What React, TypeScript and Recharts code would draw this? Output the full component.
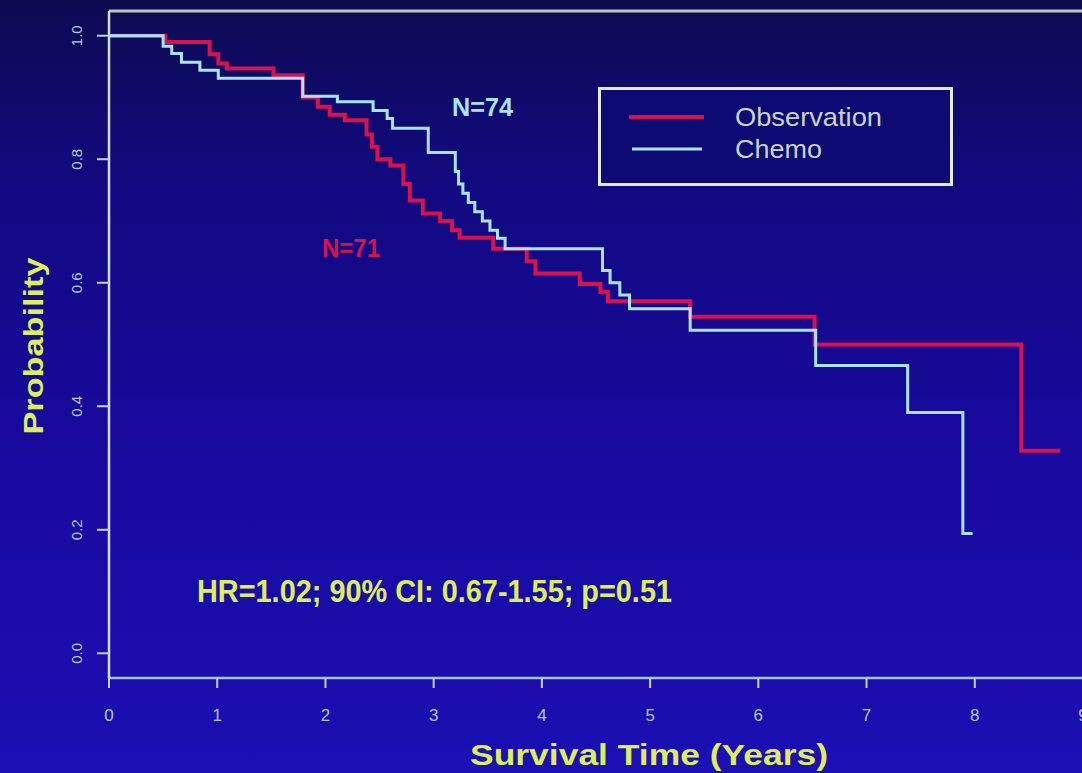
import React from "react";
import { LineChart, Line, XAxis, YAxis, ReferenceLine } from "recharts";

// Kaplan-Meier step points: time (years), survival probability
const obsTimes = [0, 0.52, 0.93, 1.01, 1.09, 1.52, 1.79, 1.93, 2.04, 2.18, 2.38, 2.43, 2.48, 2.6, 2.72, 2.78, 2.9, 3.06, 3.17, 3.24, 3.55, 3.86, 3.94, 4.35, 4.54, 4.61, 5.37, 6.52, 8.43, 8.79];
const obsSurv = [1.0, 0.99, 0.97, 0.955, 0.947, 0.936, 0.9, 0.885, 0.872, 0.863, 0.84, 0.82, 0.8, 0.79, 0.76, 0.733, 0.712, 0.7, 0.685, 0.673, 0.655, 0.635, 0.615, 0.598, 0.585, 0.57, 0.545, 0.5, 0.328, 0.328];

const chemoTimes = [0, 0.5, 0.58, 0.67, 0.84, 1.01, 1.79, 2.11, 2.44, 2.57, 2.62, 2.95, 3.2, 3.23, 3.27, 3.32, 3.38, 3.45, 3.52, 3.59, 3.66, 4.56, 4.63, 4.72, 4.81, 5.37, 6.53, 7.38, 7.89, 7.98];
const chemoSurv = [1.0, 0.983, 0.971, 0.957, 0.944, 0.931, 0.902, 0.893, 0.879, 0.866, 0.85, 0.811, 0.78, 0.76, 0.745, 0.73, 0.715, 0.7, 0.685, 0.672, 0.655, 0.62, 0.6, 0.58, 0.558, 0.523, 0.466, 0.39, 0.194, 0.194];

const xTicks = [0, 1, 2, 3, 4, 5, 6, 7, 8, 9];
const yTicks = [0, 0.2, 0.4, 0.6, 0.8, 1.0];

const seriesNames = ["Observation", "Chemo"];
const obsData = obsTimes.map((t, i) => ({ t, p: obsSurv[i] }));
const chemoData = chemoTimes.map((t, i) => ({ t, p: chemoSurv[i] }));

const RED = "#d8124c";
const BLUE = "#a8e4ff";
const AXIS = "#c4d4dc";
const YELLOW = "#dcee5c";
const FONT = "'Liberation Sans Narrow', 'Liberation Sans', Arial, sans-serif";

const YTick = (props: any) => {
  const { x, y, payload } = props;
  const cx = x - 20;
  return (
    <text x={cx} y={y} transform={`rotate(-90 ${cx} ${y})`} textAnchor="middle" dominantBaseline="central"
      fill="#b4c8e0" fontSize={15} fontFamily={FONT}>
      {Number(payload.value).toFixed(1)}
    </text>
  );
};

const XTick = (props: any) => {
  const { x, payload } = props;
  return (
    <text x={x} y={715} textAnchor="middle" dominantBaseline="central" fill="#b4c8e0" fontSize={17} fontFamily={FONT}>
      {payload.value}
    </text>
  );
};

export default function App() {
  return (
    <div style={{
      position: "absolute", left: 0, top: 0, width: 1082, height: 773, overflow: "hidden",
      background: "linear-gradient(180deg, #0b0b50 0%, #110a7e 22%, #18099c 55%, #1c0fb4 100%)",
    }}>
      <LineChart width={1090} height={773} margin={{ top: 11, right: 7, left: 49, bottom: 35 }}>
        <XAxis type="number" dataKey="t" domain={[0, 9]} ticks={xTicks} allowDataOverflow
          height={60} tickSize={10} tickMargin={2} tick={<XTick />}
          axisLine={{ stroke: "#a8c4e4", strokeWidth: 2.5 }} tickLine={{ stroke: AXIS, strokeWidth: 2 }} />
        <YAxis type="number" domain={[-0.04, 1.04]} ticks={yTicks} allowDataOverflow
          width={60} tickSize={12} tickMargin={0} tick={<YTick />}
          axisLine={{ stroke: "#d0dce8", strokeWidth: 2.5 }} tickLine={{ stroke: AXIS, strokeWidth: 2 }} />
        <ReferenceLine y={1.04} stroke="#b8c8bc" strokeWidth={3} />
        <Line data={obsData} dataKey="p" name={seriesNames[0]} type="stepAfter" stroke={RED} strokeWidth={4}
          dot={false} isAnimationActive={false} />
        <Line data={chemoData} dataKey="p" name={seriesNames[1]} type="stepAfter" stroke={BLUE} strokeWidth={3}
          dot={false} isAnimationActive={false} />
      </LineChart>
      <svg width={1082} height={773} style={{ position: "absolute", left: 0, top: 0, pointerEvents: "none" }}>
        <g transform="translate(598 87)">
          <rect x={1.5} y={1.5} width={352} height={96} fill="#0d0a74" stroke="#e4ecd0" strokeWidth={3} />
          <line x1={31} x2={106} y1={30} y2={30} stroke={RED} strokeWidth={4} />
          <line x1={34} x2={104} y1={62} y2={62} stroke={BLUE} strokeWidth={3} />
          <text x={137} y={39} fill="#c8d4c8" fontSize={25} fontFamily={FONT} textLength={147} lengthAdjust="spacingAndGlyphs">{seriesNames[0]}</text>
          <text x={137} y={71} fill="#c8d4c8" fontSize={25} fontFamily={FONT} textLength={87} lengthAdjust="spacingAndGlyphs">{seriesNames[1]}</text>
        </g>
        <text x={452} y={116} fill={BLUE} fontSize={26} fontWeight="bold" fontFamily={FONT} textLength={61} lengthAdjust="spacingAndGlyphs">N=74</text>
        <text x={322} y={257} fill={RED} fontSize={26} fontWeight="bold" fontFamily={FONT} textLength={58} lengthAdjust="spacingAndGlyphs">N=71</text>
        <text x={197} y={602} fill={YELLOW} fontSize={31} fontWeight="bold" fontFamily={FONT} textLength={475} lengthAdjust="spacingAndGlyphs">HR=1.02; 90% CI: 0.67-1.55; p=0.51</text>
        <text x={43} y={346} transform="rotate(-90 43 346)" textAnchor="middle" fill={YELLOW} fontSize={27} fontWeight="bold"
          fontFamily="'Liberation Sans', Arial, sans-serif" textLength={177} lengthAdjust="spacingAndGlyphs">Probability</text>
        <text x={649} y={765} textAnchor="middle" fill={YELLOW} fontSize={29} fontWeight="bold"
          fontFamily="'Liberation Sans', Arial, sans-serif" textLength={358} lengthAdjust="spacingAndGlyphs">Survival Time (Years)</text>
      </svg>
    </div>
  );
}
